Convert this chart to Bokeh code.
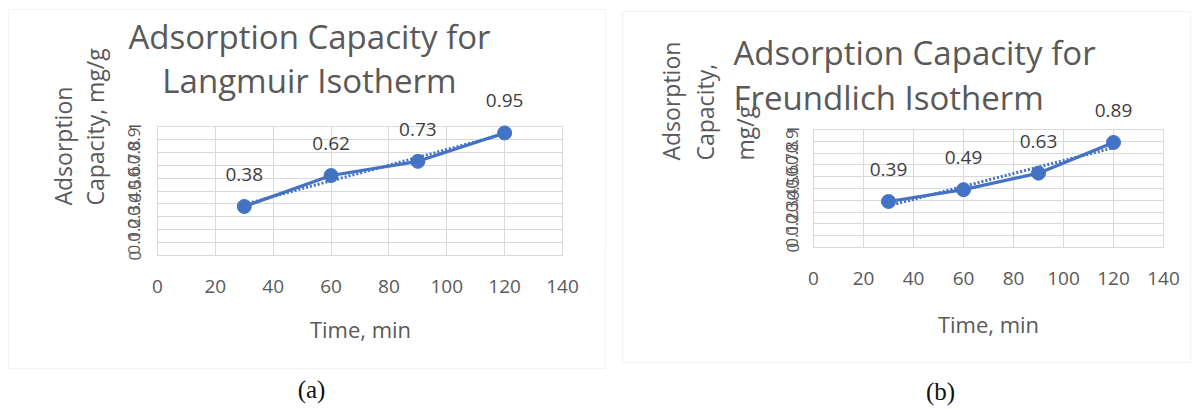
import numpy as np
from bokeh.plotting import figure
from bokeh.layouts import row, column
from bokeh.models import (Range1d, FixedTicker, Label, BoxAnnotation, ColumnDataSource,
                          LinearAxis, Grid)
from bokeh.core.properties import value
from bokeh.embed import file_html
from bokeh.resources import INLINE

# ---- data ----
time_min = [30, 60, 90, 120]
langmuir_q = [0.38, 0.62, 0.73, 0.95]
freundlich_q = [0.39, 0.49, 0.63, 0.89]
x_ticks = [0, 20, 40, 60, 80, 100, 120, 140]
y_ticks = [0, 0.1, 0.2, 0.3, 0.4, 0.5, 0.6, 0.7, 0.8, 0.9, 1.0]
y_tick_labels = ["0", "0.1", "0.2", "0.3", "0.4", "0.5", "0.6", "0.7", "0.8", "0.9", "1"]
titles_a = ["Adsorption Capacity for", "Langmuir Isotherm"]
titles_b = ["Adsorption Capacity for", "Freundlich Isotherm"]
ylab_a = ["Adsorption", "Capacity, mg/g"]
ylab_b = ["Adsorption", "Capacity,", "mg/g"]
xlab = "Time, min"
X0, X1 = 0, 140
Y0, Y1 = 0, 1

BLUE = "#4472C4"
TXT = "#595959"
GRID = "#d9d9d9"
FONT = "Open Sans"
H = 408

HAS_CROSS = "cross_bounds" in Grid.properties()


def panel(W, plot_px, xs, ys, titles, title_pos, title_align, ylabs, ylab_pos, xlab_pos,
          box, caption, cap_pos, ystand):
    # plot_px: canvas pixel box (left, right, top, bottom) of the data area X0..X1, Y0..Y1
    pl, pr, pt, pb = plot_px
    kx = (pr - pl) / (X1 - X0)
    ky = (pb - pt) / (Y1 - Y0)
    xr = Range1d(X0 - pl / kx, X1 + (W - pr) / kx)
    yr = Range1d(Y0 - (H - pb) / ky, Y1 + pt / ky)

    def dx(cx):
        return xr.start + cx / kx

    def dy(cy):
        return yr.end - cy / ky

    p = figure(width=W, height=H, output_backend="svg", toolbar_location=None,
               x_range=xr, y_range=yr, x_axis_type=None, y_axis_type=None,
               min_border=0, min_border_left=0, min_border_right=0,
               min_border_top=0, min_border_bottom=0)
    p.background_fill_color = "white"
    p.border_fill_color = "white"
    p.outline_line_color = None
    p.grid.visible = False

    # outer chart box
    p.add_layout(BoxAnnotation(left=dx(box[0]), right=dx(box[1]), top=dy(box[2]), bottom=dy(box[3]),
                               fill_color=None, line_color=GRID, line_width=1.2, level="underlay"))

    # grid restricted to the plot area
    if HAS_CROSS:
        p.add_layout(Grid(dimension=0, ticker=FixedTicker(ticks=x_ticks), bounds=(X0, X1),
                          cross_bounds=(Y0, Y1), grid_line_color=GRID))
        p.add_layout(Grid(dimension=1, ticker=FixedTicker(ticks=y_ticks), bounds=(Y0, Y1),
                          cross_bounds=(X0, X1), grid_line_color=GRID))
    else:
        p.segment(x0=x_ticks, x1=x_ticks, y0=[Y0] * len(x_ticks), y1=[Y1] * len(x_ticks),
                  line_color=GRID, line_width=1)
        p.segment(x0=[X0] * len(y_ticks), x1=[X1] * len(y_ticks), y0=y_ticks, y1=y_ticks,
                  line_color=GRID, line_width=1)

    xa = LinearAxis(ticker=FixedTicker(ticks=x_ticks), fixed_location=Y0, bounds=(X0, X1))
    ya = LinearAxis(ticker=FixedTicker(ticks=y_ticks), fixed_location=X0, bounds=(Y0, Y1))
    ya.major_label_overrides = {t: l for t, l in zip(y_ticks, y_tick_labels)}
    ya.major_label_orientation = "vertical"
    for ax in (xa, ya):
        ax.major_tick_line_color = None
        ax.minor_tick_line_color = None
        ax.major_label_text_color = TXT
        ax.major_label_text_font = FONT
    xa.axis_line_color = GRID
    ya.axis_line_color = GRID
    xa.major_label_text_font_size = "19px"
    ya.major_label_text_font_size = "17px"
    xa.major_label_standoff = 18
    ya.major_label_standoff = ystand
    p.add_layout(xa, "below")
    p.add_layout(ya, "left")

    src = ColumnDataSource(dict(x=xs, y=ys, lab=["%.2f" % v for v in ys]))
    p.line("x", "y", source=src, line_color=BLUE, line_width=3.2)
    k, b0 = np.polyfit(xs, ys, 1)
    tx = [min(xs), max(xs)]
    p.line(tx, [k * t + b0 for t in tx], line_color=BLUE, line_width=3, line_dash="2 2")
    p.scatter("x", "y", source=src, size=14, fill_color=BLUE, line_color=BLUE)
    p.text("x", "y", text="lab", source=src, y_offset=-32, text_align="center",
           text_baseline="middle", text_font=value(FONT), text_font_size="19px", text_color="#404040")

    def lab(cx, cy, t, size, align="center", angle=0.0, font=FONT, color=TXT):
        p.add_layout(Label(x=dx(cx), y=dy(cy), text=t, text_align=align, text_baseline="middle",
                           angle=angle, text_font=font, text_font_size=size, text_color=color))

    for t, cy in zip(titles, title_pos[1]):
        lab(title_pos[0], cy, t, "33px", align=title_align)
    for t, cx in zip(ylabs, ylab_pos[0]):
        lab(cx, ylab_pos[1], t, "23px", align="left", angle=np.pi / 2)
    lab(xlab_pos[0], xlab_pos[1], xlab, "22px")
    lab(cap_pos[0], cap_pos[1], caption, "25px", font="Liberation Serif", color="#111111")
    return p


pa = panel(606, (157, 562, 126, 255), time_min, langmuir_q, titles_a, (309, [36, 80]), "center",
           ylab_a, ([62, 94], 205), (360, 328), (8, 605, 9, 368), "(a)", (311, 389), 11)
pb = panel(585, (207, 557, 129, 247), time_min, freundlich_q, titles_b, (127, [52, 97]), "left",
           ylab_b, ([64, 98, 138], 160), (382, 323), (16, 584, 11, 362), "(b)", (334, 391), 9)

layout = row(column(pa), column(pb), spacing=0)
open("out.html", "w").write(file_html(layout, INLINE))
